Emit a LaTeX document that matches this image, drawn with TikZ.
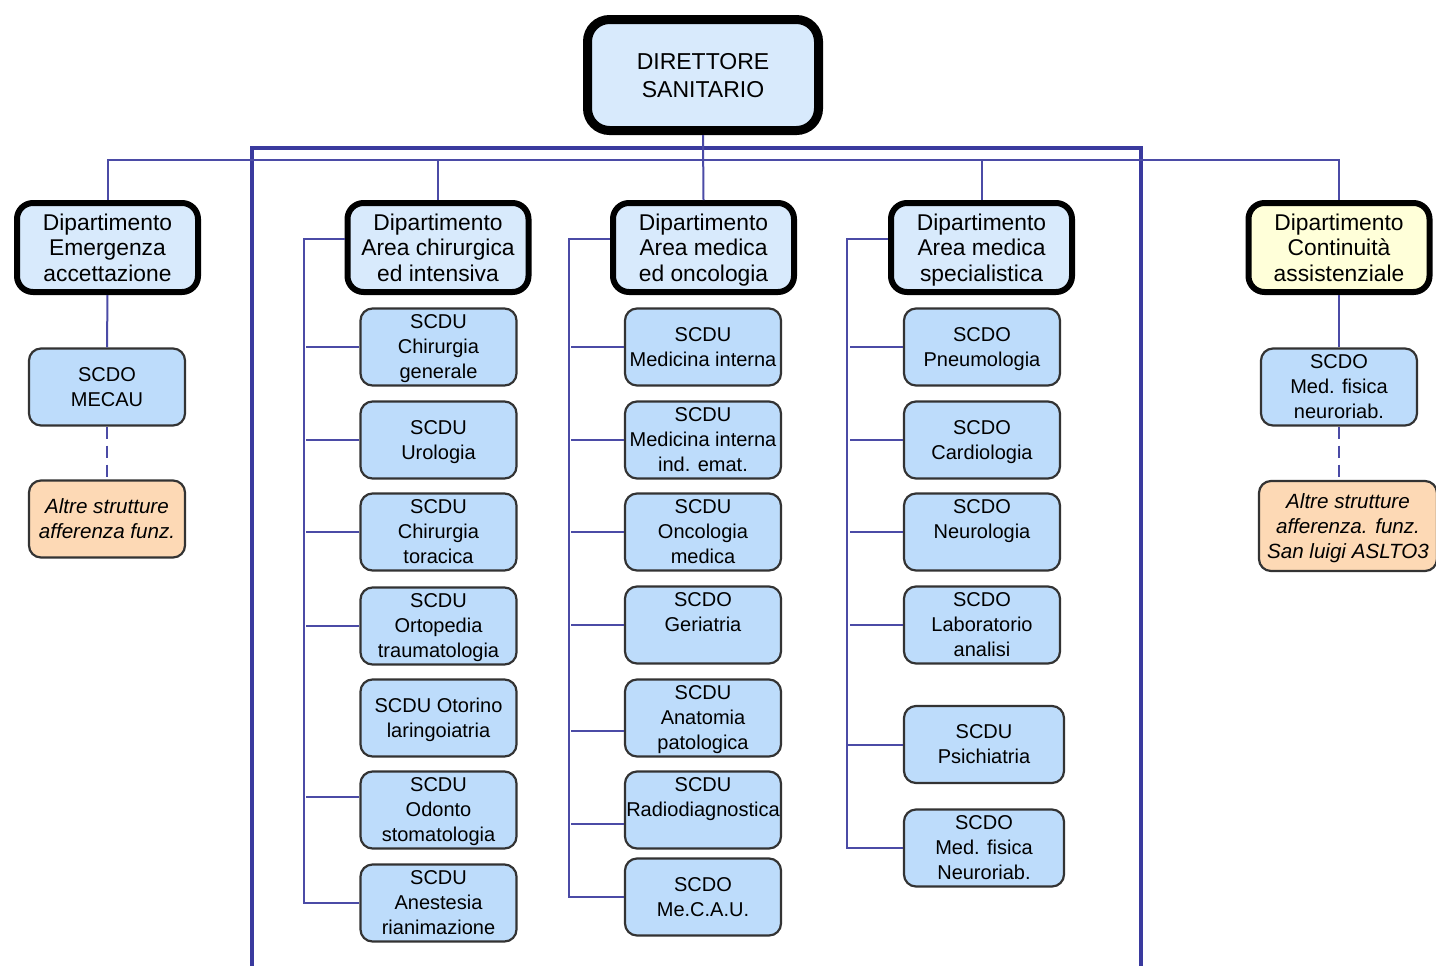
\documentclass[tikz,border=0pt]{standalone}
\usepackage{fontspec}
\setmainfont{Liberation Sans}
\definecolor{conncol}{HTML}{4B4BA6}
\definecolor{framecol}{HTML}{3A3A9E}
\definecolor{deptfill}{HTML}{D8EAFC}
\definecolor{unitfill}{HTML}{BDDCFB}
\definecolor{contfill}{HTML}{FFFFD9}
\definecolor{extfill}{HTML}{FDD9B5}
\begin{document}
\begin{tikzpicture}[x=0.5pt,y=-0.5pt,
    conn/.style={draw=conncol,line width=1pt},
    unitbox/.style={draw=black!80,line width=1.1pt,rounded corners=6pt,fill=unitfill,
      minimum width=78pt,minimum height=38.5pt,inner sep=0pt,align=center,text depth=0pt,
      font=\fontsize{10}{12.5}\selectfont},
    extbox/.style={unitbox,fill=extfill,font=\fontsize{10.3}{12.5}\selectfont\itshape},
    deptbox/.style={draw=black,line width=3pt,rounded corners=8pt,fill=deptfill,
      minimum width=90.5pt,minimum height=44.5pt,inner sep=0pt,align=center,text depth=0pt,
      font=\fontsize{11.4}{12.75}\selectfont}]
          \useasboundingbox (0,0) rectangle (1436,965);
          \clip (0,0) rectangle (1436,965);
          \draw [draw=framecol,line width=2pt] (252,148) rectangle (1141,990);
          \node [deptbox,line width=4.5pt,rounded corners=11pt,minimum width=115.5pt,minimum height=55.5pt,
            font=\fontsize{11.5}{14}\selectfont] (dirsan) at (703,75) {DIRETTORE\\SANITARIO};
          \node [deptbox] (demerg) at (107.5,247.5) {Dipartimento\\Emergenza\\accettazione};
          \node [deptbox] (dchir) at (438,247.5) {Dipartimento\\Area chirurgica\\ed intensiva};
          \node [deptbox] (dmed) at (703.5,247.5) {Dipartimento\\Area medica\\ed oncologia};
          \node [deptbox] (dspec) at (981.5,247.5) {Dipartimento\\Area medica\\specialistica};
          \node [deptbox,fill=contfill] (dcont) at (1339,247.5) {Dipartimento\\Continuità\\assistenziale};
          \node [unitbox] (mecau) at (107,387) {SCDO\\MECAU};
          \node [extbox] (extemerg) at (107,519) {Altre strutture\\afferenza funz.};
          \node [unitbox] (medfisc) at (1339,387) {SCDO\\Med. fisica\\neuroriab.};
          \node [extbox,minimum width=89pt,minimum height=45pt] (extcont) at (1348,526)
            {Altre strutture\\afferenza. funz.\\San luigi ASLTO3};
          \node [unitbox] (chirgen) at (438.5,347) {SCDU\\Chirurgia\\generale};
          \node [unitbox] (urol) at (438.5,440) {SCDU\\Urologia};
          \node [unitbox] (chirtor) at (438.5,532) {SCDU\\Chirurgia\\toracica};
          \node [unitbox] (ortop) at (438.5,626) {SCDU\\Ortopedia\\traumatologia};
          \node [unitbox] (otor) at (438.5,718) {SCDU Otorino\\laringoiatria};
          \node [unitbox] (odont) at (438.5,810) {SCDU\\Odonto\\stomatologia};
          \node [unitbox] (anest) at (438.5,903) {SCDU\\Anestesia\\rianimazione};
          \node [unitbox] (medint) at (703,347) {SCDU\\Medicina interna};
          \node [unitbox] (medema) at (703,440) {SCDU\\Medicina interna\\ind. emat.};
          \node [unitbox] (oncol) at (703,532) {SCDU\\Oncologia\\medica};
          \node [unitbox] (geriat) at (703,625) {SCDO\\Geriatria\\~};
          \node [unitbox] (anatom) at (703,718) {SCDU\\Anatomia\\patologica};
          \node [unitbox] (radio) at (703,810) {SCDU\\Radiodiagnostica\\~};
          \node [unitbox] (mecaumed) at (703,897) {SCDO\\Me.C.A.U.};
          \node [unitbox] (pneum) at (982,347) {SCDO\\Pneumologia};
          \node [unitbox] (cardio) at (982,440) {SCDO\\Cardiologia};
          \node [unitbox] (neuro) at (982,532) {SCDO\\Neurologia\\~};
          \node [unitbox] (labor) at (982,625) {SCDO\\Laboratorio\\analisi};
          \node [unitbox,minimum width=80pt] (psich) at (984,744.5) {SCDU\\Psichiatria};
          \node [unitbox,minimum width=80pt] (medfisn) at (984,848) {SCDO\\Med. fisica\\Neuroriab.};
          \coordinate (bus) at (703,160);
          \draw [conn] (demerg.north) |- (bus) -| (dcont.north);
          \draw [conn] (dirsan.south) -- (dmed.north);
          \draw [conn] (dchir.north) -- (dchir.north |- bus);
          \draw [conn] (dspec.north) -- (dspec.north |- bus);
          \draw [conn] (demerg.south) -- (mecau.north);
          \draw [conn] (dcont.south) -- (medfisc.north);
          \draw [conn,dash pattern=on 6pt off 3.5pt] (mecau.south) -- (extemerg.north);
          \draw [conn,dash pattern=on 6pt off 3.5pt] (medfisc.south) -- (extcont.north -| medfisc.south);
          \draw [conn] (dchir.175) -- ++(-41,0) |- (anest.west);
          \draw [conn] (chirgen.west) -- ++(-53,0) (urol.west) -- ++(-53,0)
            (chirtor.west) -- ++(-53,0) (ortop.west) -- ++(-53,0)
            ([yshift=6.5pt]odont.west) -- ++(-53,0);
          \draw [conn] (dmed.175) -- ++(-41,0) |- (mecaumed.west);
          \draw [conn] (medint.west) -- ++(-53,0) (medema.west) -- ++(-53,0)
            (oncol.west) -- ++(-53,0) (geriat.west) -- ++(-53,0)
            ([yshift=-6.5pt]anatom.west) -- ++(-53,0) ([yshift=-7pt]radio.west) -- ++(-53,0);
          \draw [conn] (dspec.175) -- ++(-41,0) |- (medfisn.west);
          \draw [conn] (pneum.west) -- ++(-53,0) (cardio.west) -- ++(-53,0)
            (neuro.west) -- ++(-53,0) (labor.west) -- ++(-53,0)
            (psich.west) -- ++(-55,0);
\end{tikzpicture}
\end{document}
